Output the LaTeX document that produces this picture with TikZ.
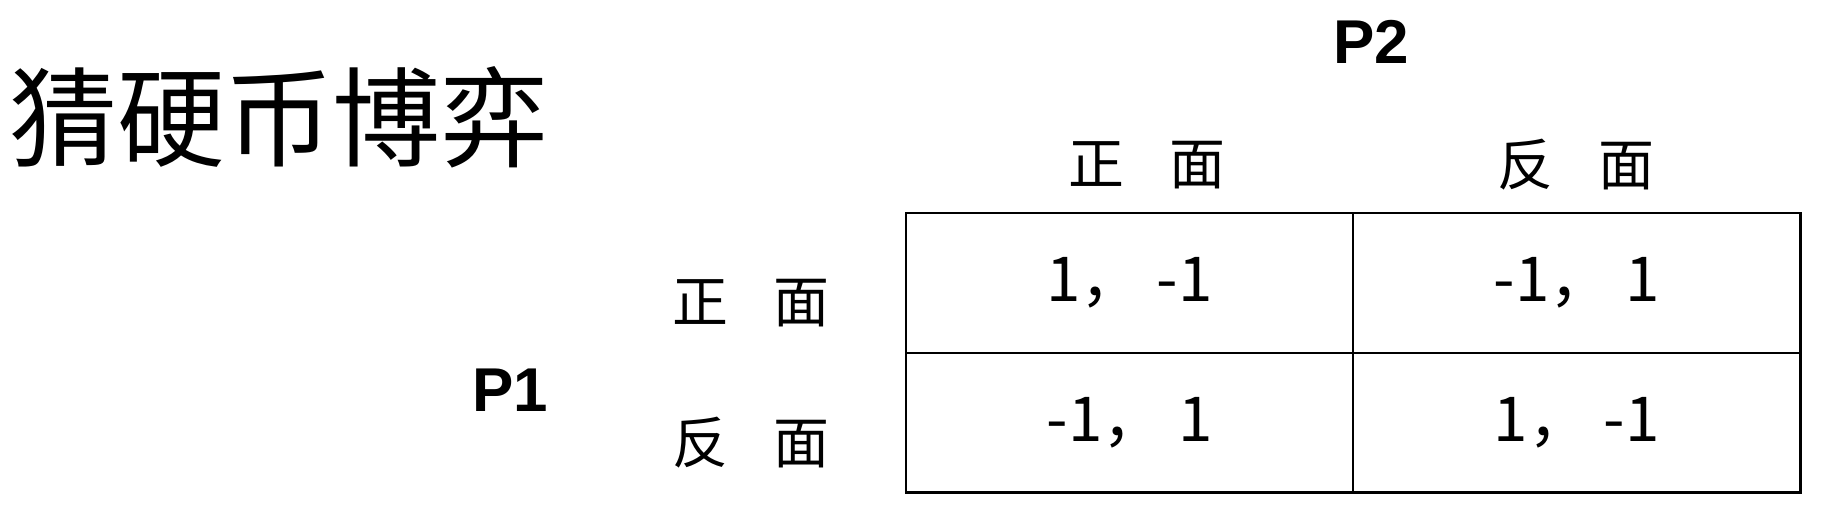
\documentclass[tikz,border=0pt]{standalone}
\usepackage{fontspec}
\setmainfont{Liberation Sans}
\newfontfamily\cjk{Noto Sans CJK SC}
\usetikzlibrary{positioning}

\begin{document}
\begin{tikzpicture}[
        x=0.01cm, y=-0.01cm,
        node distance=0pt,
        title/.style={font=\cjk\fontsize{30.7}{32}\selectfont, inner sep=0pt},
        player/.style={font=\bfseries\fontsize{17.6}{20}\selectfont, inner sep=0pt},
        strategy/.style={font=\cjk\fontsize{15.9}{18}\selectfont, inner sep=0pt},
        payoff/.style={rectangle, draw, line width=0.7pt, minimum width=4.47cm, minimum height=1.395cm, outer sep=0pt, inner sep=0pt, font=\cjk\fontsize{17.6}{20}\selectfont}
    ]
        \useasboundingbox (0,0) rectangle (1837,522);

        % Titel
        \node[title] (title) at (279,117) {猜硬币博弈};

        % Auszahlungsmatrix
        \node[payoff] (hh) at (1129.5,283) {1，\ -1};
        \node[payoff] (ht) [right=of hh] {-1，\ 1};
        \node[payoff] (th) [below=of hh] {-1，\ 1};
        \node[payoff] (tt) [right=of th] {1，\ -1};

        % Strategien
        \node[strategy] (p2head) at (1147,165) {正\hspace{0.8em}面};
        \node[strategy] (p2tail) at (1576,165) {反\hspace{0.8em}面};
        \node[strategy] (p1head) at (751,303) {正\hspace{0.8em}面};
        \node[strategy] (p1tail) at (751,443) {反\hspace{0.8em}面};

        % Spieler
        \node[player] (p1) at (510,390) {P1};
        \node[player] (p2) at (1371,42) {P2};
    \end{tikzpicture}
\end{document}
